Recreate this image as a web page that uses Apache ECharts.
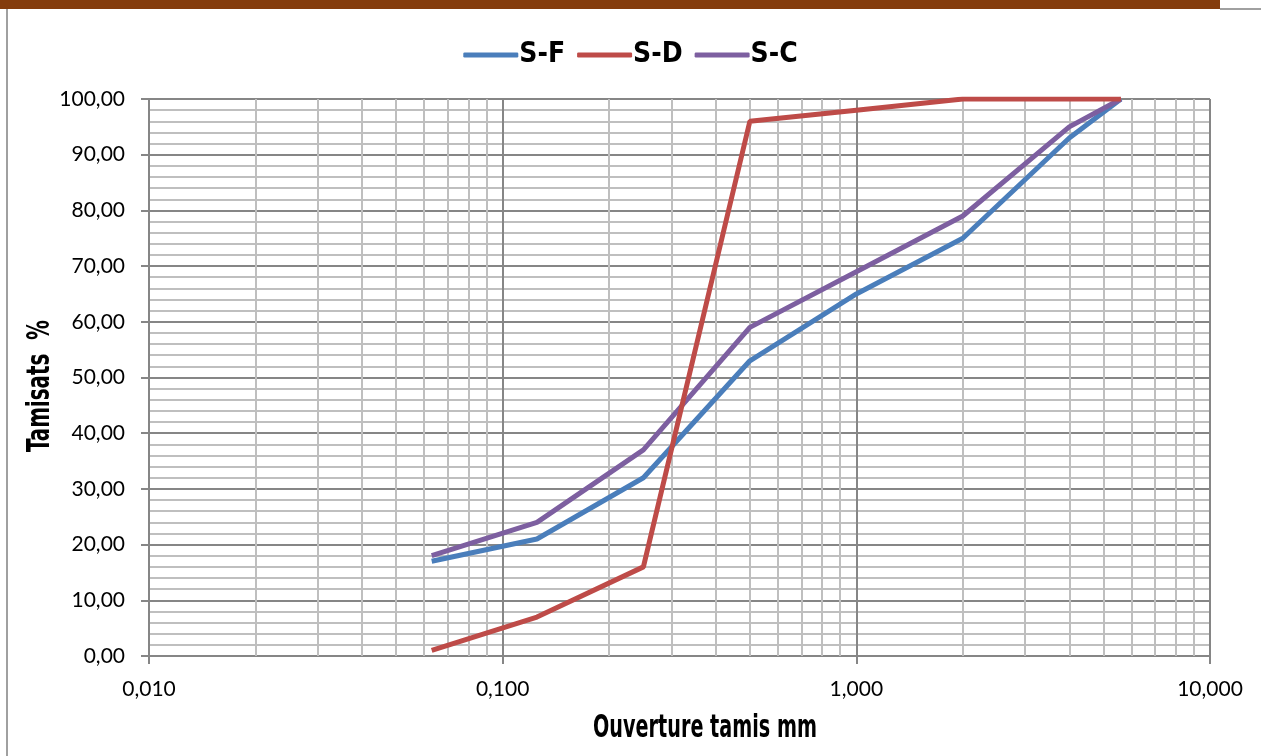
<!DOCTYPE html>
<html>
<head>
<meta charset="utf-8">
<script src="https://cdn.jsdelivr.net/npm/echarts@6/dist/echarts.min.js"></script>
<style>html,body{margin:0;padding:0;background:#fff}#c{width:1261px;height:756px}</style>
</head>
<body>
<div id="c"></div>
<script>
// Sieve openings (mm)
var sieves = [0.063, 0.125, 0.25, 0.5, 1, 2, 4, 5.6];
// Passing percentages
var sF = [17, 21, 32, 53, 65, 75, 93, 100];
var sD = [1, 7, 16, 96, 98, 100, 100, 100];
var sC = [18, 24, 37, 59, 69, 79, 95, 100];
var seriesNames = ['S-F', 'S-D', 'S-C'];
var xTitle = 'Ouverture tamis mm';
var yTitle = 'Tamisats  %';
// Minor log grid positions (2..9 in each decade)
var minorX = [0.02,0.03,0.04,0.05,0.06,0.07,0.08,0.09,0.2,0.3,0.4,0.5,0.6,0.7,0.8,0.9,2,3,4,5,6,7,8,9];

function pairs(v){ return sieves.map(function(x,i){ return [x, v[i]]; }); }

// pick an installed condensed font
var cv = document.createElement('canvas').getContext('2d');
function w(font){ cv.font = font; return cv.measureText('Ouverture tamis mm WWW').width; }
function has(name){
  var a = w('bold 40px "' + name + '", monospace'), b = w('bold 40px monospace');
  var c = w('bold 40px "' + name + '", serif'), d = w('bold 40px serif');
  return a !== b || c !== d;
}
var cands = ['Liberation Sans Narrow', 'DejaVu Sans Condensed', 'Roboto Condensed', 'DejaVu Sans'];
var condFont = 'sans-serif';
for (var i = 0; i < cands.length; i++) { if (has(cands[i])) { condFont = '"' + cands[i] + '"'; break; } }
var titleSize = 32;
function scaleFor(text, target){ cv.font = 'bold ' + titleSize + 'px ' + condFont; return target / cv.measureText(text).width; }

var chart = echarts.init(document.getElementById('c'));
var labelFont = 'Lato, "Open Sans", sans-serif';
var mk = function(name, data, color, z){
  return {
    name: name, type: 'line', data: pairs(data), symbol: 'none', z: z,
    lineStyle: { color: color, width: 5 }, itemStyle: { color: color }
  };
};
var sF_s = mk('S-F', sF, '#4A7EBB', 3);
sF_s.markLine = {
  silent: true, symbol: 'none', label: { show: false },
  lineStyle: { color: '#BFBFBF', width: 2, type: 'solid' },
  data: minorX.map(function(v){ return { xAxis: v }; }),
  z: 1
};
chart.setOption({
  animation: false,
  grid: { left: 149, right: 51, top: 99, bottom: 100 },
  legend: {
    data: seriesNames, top: 36, left: 'center', itemWidth: 55, itemHeight: 5, itemGap: 12,
    textStyle: { fontFamily: condFont, fontWeight: 'bold', fontSize: 28, color: '#000', padding: [0,0,0,-4] },
    icon: 'roundRect'
  },
  xAxis: {
    type: 'log', logBase: 10, min: 0.01, max: 10,
    axisLine: { show: true, lineStyle: { color: '#868686', width: 2 } },
    axisTick: { show: true, length: 8, lineStyle: { color: '#868686', width: 2 } },
    axisLabel: { fontFamily: labelFont, fontSize: 21, color: '#000', margin: 23,
      formatter: function(v){ return Number(v).toFixed(3).replace('.', ','); } },
    splitLine: { show: true, lineStyle: { color: '#868686', width: 2 } },
    minorTick: { show: false }, minorSplitLine: { show: false }
  },
  yAxis: {
    type: 'value', min: 0, max: 100, interval: 10,
    axisLine: { show: true, lineStyle: { color: '#868686', width: 2 } },
    axisTick: { show: true, length: 8, lineStyle: { color: '#868686', width: 2 } },
    axisLabel: { fontFamily: labelFont, fontSize: 21, color: '#000', margin: 24,
      formatter: function(v){ return Number(v).toFixed(2).replace('.', ','); } },
    splitLine: { show: true, lineStyle: { color: '#868686', width: 2 } },
    minorTick: { show: true, splitNumber: 5, length: 0 },
    minorSplitLine: { show: true, lineStyle: { color: '#BFBFBF', width: 2 } }
  },
  series: [ sF_s, mk('S-D', sD, '#BE4B48', 5), mk('S-C', sC, '#7D5FA0', 4) ],
  graphic: [
    { type: 'rect', shape: { x: 0, y: 0, width: 1220, height: 9 }, style: { fill: '#843C0C' }, z: 100 },
    { type: 'rect', shape: { x: 1220, y: 8, width: 41, height: 2 }, style: { fill: '#A0A0A0' }, z: 100 },
    { type: 'rect', shape: { x: 6, y: 9, width: 2, height: 747 }, style: { fill: '#A0A0A0' }, z: 100 },
    { type: 'text', x: 705, y: 729, scaleX: scaleFor(xTitle, 224), style: { text: xTitle, fontFamily: condFont, fontWeight: 'bold',
      fontSize: titleSize, fill: '#000', align: 'center', verticalAlign: 'middle' }, z: 100 },
    { type: 'text', x: 41, y: 386, rotation: Math.PI/2, scaleX: scaleFor(yTitle, 132), style: { text: yTitle, fontFamily: condFont, fontWeight: 'bold',
      fontSize: titleSize, fill: '#000', align: 'center', verticalAlign: 'middle' }, z: 100 }
  ]
});
</script>
</body>
</html>
